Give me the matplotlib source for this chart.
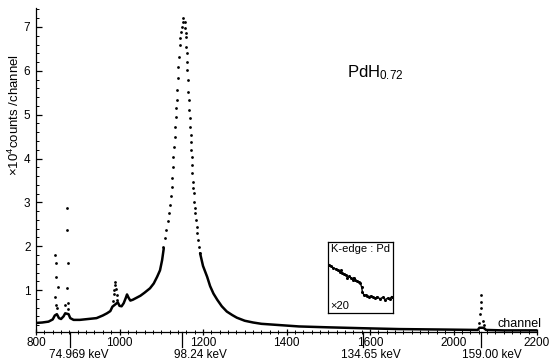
import matplotlib
matplotlib.use('Agg')
import matplotlib.pyplot as plt
import matplotlib.transforms as mtransforms
from matplotlib.ticker import MultipleLocator

plt.rcParams['font.family'] = ['Liberation Sans', 'DejaVu Sans']
plt.rcParams['mathtext.fontset'] = 'custom'
plt.rcParams['mathtext.rm'] = 'Liberation Sans'
plt.rcParams['mathtext.it'] = 'Liberation Sans:italic'

# dense part of the spectrum (dots merge into a line), counts in units of 1e4
line_ch = [800, 815, 830, 840, 845, 850, 855, 860, 866, 870, 878, 882, 890, 905,
           925, 945, 960, 970, 978, 983, 996, 1000, 1005, 1010, 1015, 1018, 1022,
           1026, 1032, 1040, 1050, 1060, 1073, 1082, 1090, 1097, 1102, 1106]
line_cnt = [0.25, 0.26, 0.28, 0.33, 0.42, 0.45, 0.36, 0.34, 0.40, 0.47, 0.45, 0.36,
            0.32, 0.32, 0.34, 0.36, 0.42, 0.47, 0.52, 0.62, 0.72, 0.64, 0.63, 0.70,
            0.82, 0.90, 0.82, 0.76, 0.78, 0.82, 0.87, 0.94, 1.04, 1.15, 1.30, 1.45,
            1.68, 1.95]

tail_ch = [1193, 1200, 1210, 1217, 1225, 1234, 1245, 1257, 1270, 1281, 1300, 1320,
           1340, 1385, 1430, 1500, 1580, 1670, 1770, 1858, 1862, 1872, 1878, 1920, 2000]
tail_cnt = [1.84, 1.55, 1.30, 1.09, 0.92, 0.78, 0.63, 0.51, 0.43, 0.37, 0.30, 0.26,
            0.23, 0.20, 0.17, 0.15, 0.13, 0.11, 0.10, 0.09, 0.14, 0.14, 0.09, 0.08, 0.08]

# sparse dots: small peaks and flanks of the main peak
dot_ch = [846, 849, 848, 852, 846, 847, 851,
          874, 874, 876, 874, 877, 870, 876,
          985, 986, 988, 989, 990, 992, 993, 995,
          1105, 1109, 1112, 1116, 1119, 1122, 1123, 1125, 1126, 1128, 1129, 1130,
          1132, 1133, 1135, 1136, 1137, 1138, 1139, 1141, 1142, 1145, 1146, 1148,
          1149, 1151, 1152,
          1157, 1158, 1159, 1159, 1159, 1161, 1161, 1162, 1163, 1165, 1166, 1167,
          1168, 1170, 1171, 1171, 1172, 1173, 1174, 1174, 1175, 1177, 1178, 1178,
          1181, 1182, 1183, 1185, 1186, 1189, 1191, 1193,
          1862, 1864, 1866, 1865, 1867, 1871, 1873]
dot_cnt = [1.80, 1.61, 1.30, 1.07, 0.84, 0.66, 0.60,
           2.87, 2.37, 1.62, 1.05, 0.70, 0.66, 0.56,
           0.75, 0.90, 1.00, 1.12, 1.19, 1.02, 0.88, 0.78,
           1.98, 2.19, 2.37, 2.58, 2.76, 2.94, 3.15, 3.35, 3.56, 3.81, 4.04, 4.26,
           4.49, 4.72, 4.95, 5.16, 5.34, 5.57, 5.84, 6.09, 6.32, 6.59, 6.75, 6.89,
           7.00, 7.12, 7.21,
           7.12, 6.98, 6.86, 6.78, 6.55, 6.41, 6.21, 6.02, 5.80, 5.52, 5.34, 5.11,
           4.92, 4.72, 4.54, 4.38, 4.20, 4.04, 3.85, 3.67, 3.47, 3.33, 3.21, 3.01,
           2.87, 2.76, 2.60, 2.44, 2.30, 2.14, 1.98, 1.84,
           0.25, 0.45, 0.60, 0.72, 0.89, 0.30, 0.20]

# energy calibration marks below the axis
mark_ch = [881, 1150, 1584, 1866]
mark_label_ch = [903, 1193, 1602, 1892]
mark_labels = ['74.969 keV', '98.24 keV', '134.65 keV', '159.00 keV']

xtick_pos = [800, 1000, 1200, 1400, 1600, 1800, 2000]
xtick_labels = ['800', '1000', '1200', '1400', '1600', '2000', '2200']

# K-edge inset (relative units, x20)
k_x = [0.02, 0.05, 0.08, 0.12, 0.15, 0.18, 0.20, 0.22, 0.25, 0.28, 0.30, 0.33,
       0.36, 0.38, 0.40, 0.42, 0.45, 0.48, 0.50, 0.52, 0.53, 0.55, 0.58, 0.60,
       0.63, 0.66, 0.70, 0.73, 0.76, 0.80, 0.84, 0.88, 0.92, 0.95, 0.98]
k_y = [0.68, 0.66, 0.64, 0.62, 0.60, 0.58, 0.60, 0.56, 0.55, 0.54, 0.50, 0.52,
       0.49, 0.47, 0.50, 0.46, 0.45, 0.44, 0.42, 0.36, 0.30, 0.26, 0.25, 0.24,
       0.23, 0.24, 0.22, 0.21, 0.23, 0.20, 0.22, 0.19, 0.21, 0.20, 0.23]

fig = plt.figure(figsize=(5.53, 3.64), dpi=100)
ax = fig.add_axes([0.0651, 0.0887, 0.906, 0.889])

ax.plot(line_ch, line_cnt, color='black', lw=1.8, solid_capstyle='round')
ax.plot(tail_ch, tail_cnt, color='black', lw=1.8, solid_capstyle='round')
ax.plot(dot_ch, dot_cnt, 'o', color='black', ms=2.0, mew=0)

ax.set_xlim(800, 2000)
ax.set_ylim(0.05, 7.43)
for s in ['top', 'right']:
    ax.spines[s].set_visible(False)
for s in ['left', 'bottom']:
    ax.spines[s].set_linewidth(0.9)

ax.set_xticks(xtick_pos)
ax.set_xticklabels(xtick_labels)
ax.xaxis.set_minor_locator(MultipleLocator(20))
ax.set_yticks(range(1, 8))
ax.yaxis.set_minor_locator(MultipleLocator(0.2))
ax.tick_params(axis='x', which='major', direction='inout', length=5, width=0.9,
               labelsize=8.5, pad=1)
ax.tick_params(axis='x', which='minor', direction='inout', length=3, width=0.7)
ax.tick_params(axis='y', which='major', direction='in', length=4, width=0.9,
               labelsize=8.5, pad=4)
ax.tick_params(axis='y', which='minor', direction='in', length=2.5, width=0.7)

ax.set_ylabel('×10$^4$counts /channel', fontsize=9.5)
ax.yaxis.set_label_coords(-0.028, 0.67)

trans = mtransforms.blended_transform_factory(ax.transData, ax.transAxes)
for c in mark_ch:
    ax.plot([c, c], [0, -0.047], color='black', lw=0.9, transform=trans, clip_on=False)
for c, lab in zip(mark_label_ch, mark_labels):
    ax.text(c, -0.072, lab, transform=trans, ha='center', va='center', fontsize=8.5)

ax.text(1959, 0.005, 'channel', transform=trans, ha='center', va='bottom', fontsize=9)
ax.text(1612, 0.80, r'PdH$_{\mathrm{0.72}}$', transform=trans, ha='center',
        va='center', fontsize=12)

ins = fig.add_axes([0.593, 0.140, 0.1175, 0.195])
ins.plot(k_x, k_y, 'o', color='black', ms=2.2, mew=0)
ins.plot(k_x, k_y, color='black', lw=1.0)
ins.set_xlim(0, 1)
ins.set_ylim(0, 1)
ins.set_xticks([])
ins.set_yticks([])
for s in ins.spines.values():
    s.set_linewidth(0.9)
ins.text(0.5, 0.97, 'K-edge : Pd', transform=ins.transAxes, ha='center', va='top',
         fontsize=8)
ins.text(0.03, 0.03, '×20', transform=ins.transAxes, ha='left', va='bottom',
         fontsize=8)

fig.savefig('out.png', dpi=100)
